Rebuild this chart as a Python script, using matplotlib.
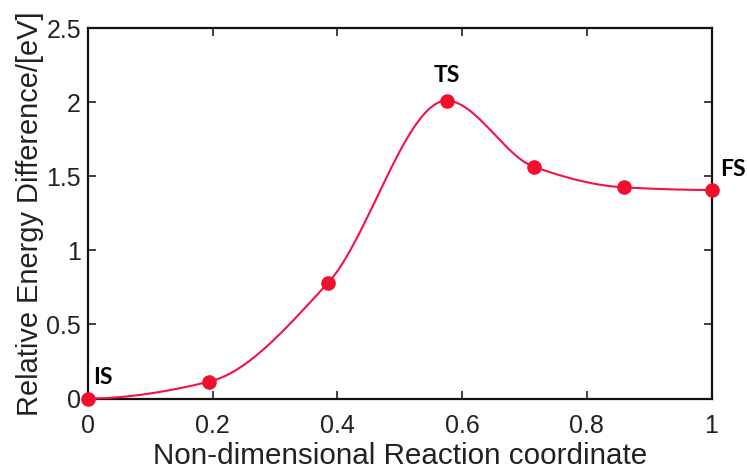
import numpy as np
import matplotlib
matplotlib.use("Agg")
import matplotlib.pyplot as plt

# Data
x_pts = [0.0, 0.194, 0.385, 0.575, 0.715, 0.859, 1.0]
y_pts = [0.0, 0.113, 0.78, 2.01, 1.564, 1.425, 1.407]
state_labels = ["IS", "TS", "FS"]
state_index = [0, 3, 6]
x_ticks = [0, 0.2, 0.4, 0.6, 0.8, 1]
x_ticklabels = ["0", "0.2", "0.4", "0.6", "0.8", "1"]
y_ticks = [0, 0.5, 1, 1.5, 2, 2.5]
y_ticklabels = ["0", "0.5", "1", "1.5", "2", "2.5"]


def pchip(x, y, xn):
    x = np.asarray(x, float); y = np.asarray(y, float)
    h = np.diff(x); delta = np.diff(y) / h
    n = len(x)
    d = np.zeros(n)
    for k in range(1, n - 1):
        if delta[k - 1] * delta[k] > 0:
            w1 = 2 * h[k] + h[k - 1]
            w2 = h[k] + 2 * h[k - 1]
            d[k] = (w1 + w2) / (w1 / delta[k - 1] + w2 / delta[k])
    def end(h0, h1, d0, d1):
        dd = ((2 * h0 + h1) * d0 - h0 * d1) / (h0 + h1)
        if np.sign(dd) != np.sign(d0):
            dd = 0
        elif np.sign(d0) != np.sign(d1) and abs(dd) > abs(3 * d0):
            dd = 3 * d0
        return dd
    d[0] = end(h[0], h[1], delta[0], delta[1])
    d[-1] = end(h[-1], h[-2], delta[-1], delta[-2])
    idx = np.clip(np.searchsorted(x, xn) - 1, 0, n - 2)
    t = (xn - x[idx]) / h[idx]
    hk = h[idx]
    h00 = 2 * t**3 - 3 * t**2 + 1
    h10 = t**3 - 2 * t**2 + t
    h01 = -2 * t**3 + 3 * t**2
    h11 = t**3 - t**2
    return h00 * y[idx] + h10 * hk * d[idx] + h01 * y[idx + 1] + h11 * hk * d[idx + 1]


xs = np.linspace(x_pts[0], x_pts[-1], 400)
ys = pchip(x_pts, y_pts, xs)

plt.rcParams['font.family'] = ['Liberation Sans', 'DejaVu Sans']
fig = plt.figure(figsize=(7.47, 4.70), dpi=100)
ax = fig.add_axes([0.1178, 0.1521, 0.9525 - 0.1178, 0.9404 - 0.1521])

ax.plot(xs, ys, color='#f5104a', lw=1.5, zorder=3, clip_on=False)
ax.plot(x_pts, y_pts, 'o', color='#f0102e', ms=9.5, zorder=4, clip_on=False)

ax.set_xlim(0, 1)
ax.set_ylim(0, 2.5)
ax.set_xticks(x_ticks)
ax.set_xticklabels(x_ticklabels)
ax.set_yticks(y_ticks)
ax.set_yticklabels(y_ticklabels)
ax.tick_params(direction='in', top=True, right=True, length=6, width=1.2,
               labelsize=18, colors='#222222')
ax.tick_params(axis='x', pad=11)
ax.tick_params(axis='y', pad=5)
for s in ax.spines.values():
    s.set_linewidth(1.6)
    s.set_color('#111111')

ax.set_xlabel("Non-dimensional Reaction coordinate", fontsize=21.3, color='#222222', labelpad=3)
ax.set_ylabel("Relative Energy Difference/[eV]", fontsize=20.9, color='#222222', labelpad=2)

offsets = [(0.024, 0.142), (0.0, 0.17), (0.0345, 0.135)]
for lab, i, (dx, dy) in zip(state_labels, state_index, offsets):
    ax.text(x_pts[i] + dx, y_pts[i] + dy, lab, fontsize=16.5, fontweight='bold',
            family=['Lato', 'DejaVu Sans'], ha='center', va='center', clip_on=False)

fig.savefig("out.png", dpi=100)
